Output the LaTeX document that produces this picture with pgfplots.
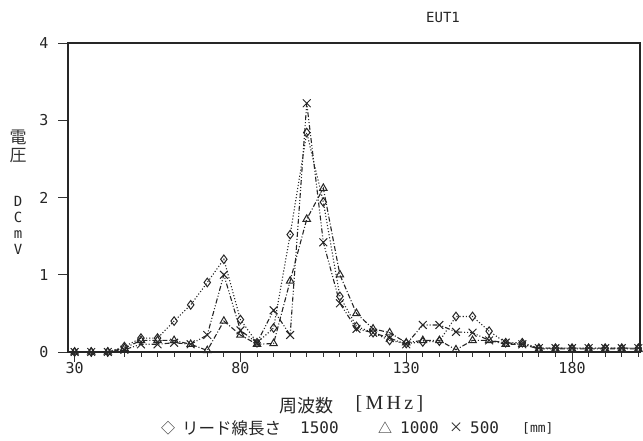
\documentclass[border=0pt]{standalone}
\usepackage{fontspec}
\usepackage{pgfplots}
\pgfplotsset{compat=1.18}
\setmainfont{DejaVu Sans Mono}
\newfontfamily\jp{Noto Sans CJK JP}
\newfontfamily\mono{DejaVu Sans Mono}
\newfontfamily\serifjp{Liberation Serif}
\begin{document}
\begin{tikzpicture}[x=1pt,y=1pt]
\useasboundingbox (0,0) rectangle (643,441);
\begin{axis}[
  at={(68pt,89pt)}, anchor=south west,
  width=572pt, height=309pt, scale only axis,
  xmin=28, xmax=200.5, ymin=0, ymax=4,
  xtick={30,80,130,180}, minor xtick={35,40,...,200},
  ytick={0,1,2,3,4},
  tick align=outside, xtick pos=left, ytick pos=left,
  major tick length=10pt, minor tick length=5pt,
  axis line style={line width=1.8pt, black!85},
  every tick/.style={black!80, line width=0.9pt},
  tick label style={font=\mono\fontsize{15}{15}\selectfont, black!85},
  /pgf/number format/assume math mode=true,
  yticklabel style={xshift=-6pt},
  xticklabel style={yshift=3pt},
  clip=false,
  every axis plot/.append style={black!85, line width=1.1pt, mark size=4.3pt,
    mark options={solid, fill=white, line width=1pt}},
]
% 1500 mm (diamonds, dotted)
\addplot[dotted, mark=diamond] coordinates {
(30,0) (35,0) (40,0) (45,0.07) (50,0.18) (55,0.18) (60,0.40) (65,0.61) (70,0.90)
(75,1.20) (80,0.42) (85,0.12) (90,0.31) (95,1.52) (100,2.84) (105,1.94) (110,0.72)
(115,0.33) (120,0.25) (125,0.15) (130,0.11) (135,0.13) (140,0.14) (145,0.46) (150,0.46)
(155,0.27) (160,0.12) (165,0.12) (170,0.05) (175,0.05) (180,0.05) (185,0.05) (190,0.05)
(195,0.05) (200,0.05)};
% 1000 mm (triangles, dash-dot)
\addplot[dash pattern=on 5pt off 2pt on 1pt off 2pt, mark=triangle] coordinates {
(30,0) (35,0) (40,0) (45,0.05) (50,0.15) (55,0.15) (60,0.15) (65,0.10) (70,0.02)
(75,0.40) (80,0.22) (85,0.10) (90,0.11) (95,0.92) (100,1.72) (105,2.12) (110,1.00)
(115,0.50) (120,0.30) (125,0.25) (130,0.12) (135,0.15) (140,0.15) (145,0.03) (150,0.15)
(155,0.15) (160,0.10) (165,0.10) (170,0.04) (175,0.04) (180,0.04) (185,0.04) (190,0.04)
(195,0.04) (200,0.04)};
% 500 mm (crosses, dash-dot-dot)
\addplot[dash pattern=on 5pt off 2pt on 1pt off 2pt on 1pt off 2pt, mark=x,
  mark options={solid, line width=1pt, mark size=5.5pt}] coordinates {
(30,0) (35,0) (40,0) (45,0.03) (50,0.10) (55,0.10) (60,0.12) (65,0.10) (70,0.22)
(75,1.00) (80,0.28) (85,0.12) (90,0.54) (95,0.22) (100,3.22) (105,1.42) (110,0.63)
(115,0.30) (120,0.25) (125,0.18) (130,0.10) (135,0.35) (140,0.35) (145,0.26) (150,0.25)
(155,0.15) (160,0.12) (165,0.10) (170,0.05) (175,0.05) (180,0.05) (185,0.05) (190,0.05)
(195,0.05) (200,0.05)};
\end{axis}
\node[font=\mono\fontsize{14}{14}\selectfont, black!85] at (443,423) {EUT1};
\node[font=\jp\fontsize{17}{17}\selectfont, black!80, inner sep=0pt] at (18,304) {電};
\node[font=\jp\fontsize{17}{17}\selectfont, black!80, inner sep=0pt] at (18,285) {圧};
\node[font=\mono\fontsize{14}{16}\selectfont, black!85, align=center] at (18,216) {D\\C\\m\\V};
\node[font=\jp\fontsize{18}{18}\selectfont, black!85, anchor=west] at (276,35) {周波数};
\node[font=\serifjp\fontsize{20}{20}\selectfont, black!85, anchor=west] at (352,37) {[\,M\,H\,z\,]};
\begin{scope}[every node/.style={black!85, anchor=west, inner sep=0pt}]
\node[font=\jp\fontsize{14}{14}\selectfont] at (161,13) {◇};
\node[font=\jp\fontsize{16.5}{16.5}\selectfont] at (182,13) {リード線長さ};
\node[font=\mono\fontsize{16}{16}\selectfont] at (300,13) {1500};
\node[font=\jp\fontsize{14}{14}\selectfont] at (378,13) {△};
\node[font=\mono\fontsize{16}{16}\selectfont] at (400,13) {1000};
\node[font=\jp\fontsize{14}{14}\selectfont] at (449,13) {×};
\node[font=\mono\fontsize{16}{16}\selectfont] at (470,13) {500};
\node[font=\mono\fontsize{13}{13}\selectfont] at (522,13) {[mm]};
\end{scope}
\end{tikzpicture}
\end{document}
